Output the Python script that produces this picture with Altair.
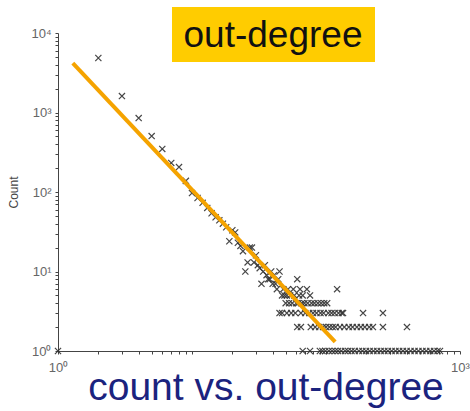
import altair as alt
import pandas as pd

# upper part of the distribution (degree, count)
deg_main = [1, 2, 3, 4, 5, 6, 7, 8, 9, 10, 11, 12, 13, 14, 15, 16, 17, 18, 19, 20,
            21, 22, 23, 24, 25, 26, 27, 28, 29, 30, 31, 32, 33, 34, 35, 36, 37, 38,
            39, 40, 41, 42, 44, 45, 61, 121, 43, 48, 52, 57, 64, 72]
cnt_main = [1, 4850, 1610, 850, 505, 348, 232, 206, 138, 97, 84, 73, 63, 54, 48, 44, 40, 36, 24, 33,
            31, 23, 21, 18, 10, 13, 20, 20, 13, 16, 12, 11, 7, 10, 12, 9, 8, 8,
            10, 7, 9, 7, 8, 10, 8, 6, 6, 6, 6, 6, 6, 6]

count5_deg = [47, 49, 51, 54, 58, 63, 67, 76]
count4_deg = [50, 53, 56, 60, 62, 66, 69, 73, 78, 82, 87, 92, 97, 102]
count3_deg = [45, 47, 51, 55, 59, 65, 70, 75, 80, 85, 91, 96, 104, 110, 116, 124, 131, 134, 189, 266]
count2_deg = [61, 65, 77, 83, 89, 95, 100, 106, 112, 118, 127, 137, 148, 158, 170, 182, 195,
              210, 224, 266, 402]
count1_deg = [67, 76, 90, 94, 99, 105, 111, 117, 123, 130, 139, 146, 155, 164, 176, 187, 199,
              212, 226, 241, 256, 273, 290, 309, 330, 352, 375, 400, 428, 458, 490, 525, 560,
              600, 640, 680, 709]

fit_deg = [1.29, 117]
fit_cnt = [4190, 1.30]

y_ticks = [1, 2, 3, 4, 5, 6, 7, 8, 9, 10, 20, 30, 40, 50, 60, 70, 80, 90, 100, 200, 300, 400,
           500, 600, 700, 800, 900, 1000, 2000, 3000, 4000, 5000, 6000, 7000, 8000, 9000, 10000]
x_ticks = [1, 2, 3, 4, 5, 6, 7, 8, 9, 10, 20, 30, 40, 50, 60, 70, 80, 90, 100, 200, 300, 400,
           500, 600, 700, 800, 900, 1000]

rows = [{"deg": d, "cnt": c} for d, c in zip(deg_main, cnt_main)]
for c, lst in [(5, count5_deg), (4, count4_deg), (3, count3_deg), (2, count2_deg), (1, count1_deg)]:
    rows += [{"deg": d, "cnt": c} for d in lst]
df = pd.DataFrame(rows)
fit_df = pd.DataFrame({"deg": fit_deg, "cnt": fit_cnt})

sup_expr = ("datum.value == 1 ? '10\u2070' : datum.value == 10 ? '10\u00b9' : "
            "datum.value == 100 ? '10\u00b2' : datum.value == 1000 ? '10\u00b3' : "
            "datum.value == 10000 ? '10\u2074' : ''")
x_expr = ("datum.value == 1 ? '10\u2070' : datum.value == 1000 ? '10\u00b3' : ''")

xscale = alt.Scale(type="log", domain=[1, 1000])
yscale = alt.Scale(type="log", domain=[1, 10000])

xaxis = alt.Axis(values=x_ticks, labelExpr=x_expr, grid=False, tickSize=3, domainColor="#444",
                 tickColor="#444", labelColor="#666", labelFont="Liberation Sans", labelFontSize=13,
                 labelPadding=7, title=None, labelFlush=False, labelOverlap=False)
yaxis = alt.Axis(values=y_ticks, labelExpr=sup_expr, grid=False, tickSize=3, domainColor="#444",
                 tickColor="#444", labelColor="#666", labelFont="Liberation Sans", labelFontSize=13,
                 labelPadding=4, title="Count", titleFont="Liberation Sans", titleFontSize=12,
                 titleFontWeight="normal", titleColor="#444", titlePadding=10,
                 labelOverlap=False, labelFlush=False)

pts = alt.Chart(df).mark_point(
    shape="M-1,-1L1,1M-1,1L1,-1", filled=False, size=38, strokeWidth=1.2, color="#333", opacity=0.9
).encode(
    x=alt.X("deg:Q", scale=xscale, axis=xaxis),
    y=alt.Y("cnt:Q", scale=yscale, axis=yaxis),
)

fit = alt.Chart(fit_df).mark_line(color="#F5A300", strokeWidth=4).encode(
    x=alt.X("deg:Q", scale=xscale),
    y=alt.Y("cnt:Q", scale=yscale),
)

box = alt.Chart(pd.DataFrame({"a": [0]})).mark_rect(color="#FFCC00").encode(
    x=alt.value(114), x2=alt.value(317), y=alt.value(-26), y2=alt.value(29)
)
title_txt = alt.Chart(pd.DataFrame({"t": ["out-degree"]})).mark_text(
    font="Liberation Sans", fontSize=37, color="#111", align="center", baseline="middle"
).encode(text="t:N", x=alt.value(215), y=alt.value(3))

bottom_txt = alt.Chart(pd.DataFrame({"t": ["count vs. out-degree"]})).mark_text(
    font="Liberation Sans", fontSize=39, color="#1B237E", align="center", baseline="middle"
).encode(text="t:N", x=alt.value(208), y=alt.value(355))

chart = alt.layer(pts, fit, box, title_txt, bottom_txt).properties(
    width=402, height=318,
    autosize=alt.AutoSizeParams(type="none"),
    padding={"left": 58, "top": 33, "right": 10, "bottom": 60},
).configure_view(stroke=None)

chart.save("out.html", embed_options={"renderer": "svg", "actions": False})
